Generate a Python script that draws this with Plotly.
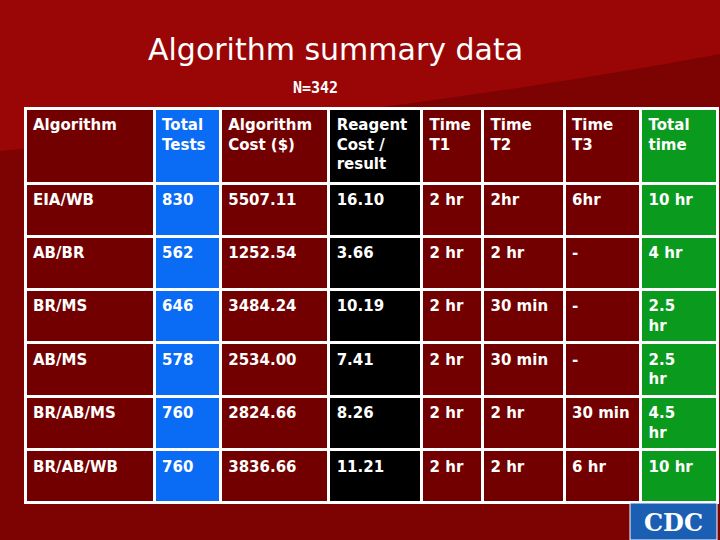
import plotly.graph_objects as go

headers = ["Algorithm", "Total<br>Tests", "Algorithm<br>Cost ($)", "Reagent<br>Cost /<br>result",
           "Time<br>T1", "Time<br>T2", "Time<br>T3", "Total<br>time"]
algorithms = ["EIA/WB", "AB/BR", "BR/MS", "AB/MS", "BR/AB/MS", "BR/AB/WB"]
total_tests = ["830", "562", "646", "578", "760", "760"]
algo_cost = ["5507.11", "1252.54", "3484.24", "2534.00", "2824.66", "3836.66"]
reagent_cost = ["16.10", "3.66", "10.19", "7.41", "8.26", "11.21"]
time_t1 = ["2 hr", "2 hr", "2 hr", "2 hr", "2 hr", "2 hr"]
time_t2 = ["2hr", "2 hr", "30 min", "30 min", "2 hr", "2 hr"]
time_t3 = ["6hr", "-", "-", "-", "30 min", "6 hr"]
total_time = ["10 hr", "4 hr", "2.5<br>hr", "2.5<br>hr", "4.5<br>hr", "10 hr"]

def b(col):
    return ["<b>%s</b>" % v.replace("30 min", "30&nbsp;min") for v in col]

RED = "#730000"
col_fill = [RED, "#0a6cf5", RED, "#000000", RED, RED, RED, "#0a9a1e"]
widths = [125, 64, 105, 90, 59, 79, 74, 75]
FONT = dict(family="DejaVu Sans", size=15, color="white")

fig = go.Figure()
fig.add_trace(go.Table(
    domain=dict(x=[25/720, 718/720], y=[1-506/540, 1-108/540]),
    columnwidth=widths,
    header=dict(values=b(headers), fill_color=col_fill, align="left", height=75,
                line=dict(color="white", width=3), font=FONT),
    cells=dict(values=[b(c) for c in [algorithms, total_tests, algo_cost, reagent_cost,
                                       time_t1, time_t2, time_t3, total_time]],
               fill_color=col_fill, align="left", height=53,
               line=dict(color="white", width=3), font=FONT),
))

fig.add_shape(type="path", xref="paper", yref="paper",
              path="M 0 1 L 1 1 L 1 0.9 Q 0.6 0.8 0 0.72 Z",
              fillcolor="#9a0606", line=dict(width=0), layer="below")
fig.add_shape(type="rect", xref="paper", yref="paper", x0=630/720, x1=717/720, y0=0, y1=37/540,
              fillcolor="#1a5fb4", line=dict(color="white", width=1))
fig.add_annotation(x=673/720, y=18/540, xref="paper", yref="paper", text="<b>CDC</b>", showarrow=False,
                   xanchor="center", yanchor="middle",
                   font=dict(family="DejaVu Serif", size=24, color="white"))
fig.add_annotation(x=335/720, y=1-50/540, xref="paper", yref="paper", text="Algorithm summary data",
                   showarrow=False, xanchor="center", yanchor="middle",
                   font=dict(family="DejaVu Sans", size=30, color="white"))
fig.add_annotation(x=315/720, y=1-88/540, xref="paper", yref="paper", text="<b>N=342</b>",
                   showarrow=False, xanchor="center", yanchor="middle",
                   font=dict(family="DejaVu Sans Mono", size=15, color="white"))

fig.update_layout(width=720, height=540, margin=dict(l=0, r=0, t=0, b=0),
                  paper_bgcolor="#7d0202", plot_bgcolor="#7d0202")
fig.write_html("out.html", config={"displayModeBar": False},
               post_script="document.body.style.margin='0';")
